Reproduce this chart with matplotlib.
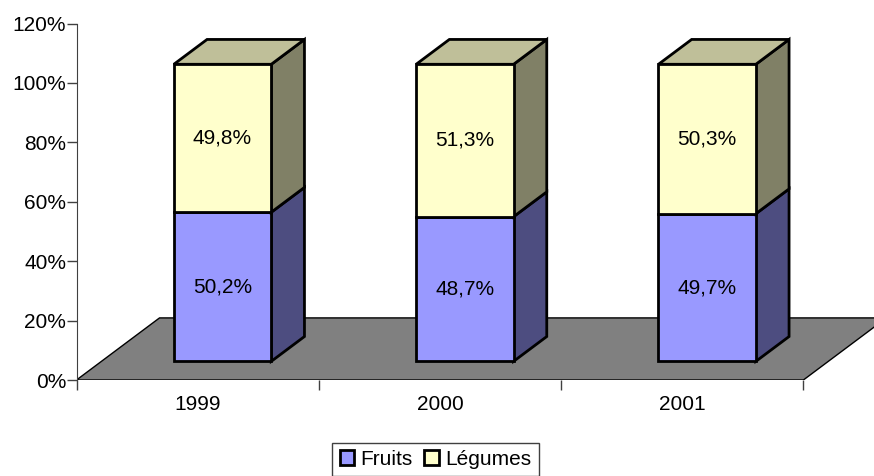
import matplotlib
matplotlib.use('Agg')
import matplotlib.pyplot as plt
from matplotlib.patches import Polygon, Patch
from matplotlib.ticker import FixedLocator, FixedFormatter

plt.rcParams['font.family'] = ['Liberation Sans', 'DejaVu Sans']

annees = ['1999', '2000', '2001']
fruits = [50.2, 48.7, 49.7]
legumes = [49.8, 51.3, 50.3]
etiquettes_fruits = ['50,2%', '48,7%', '49,7%']
etiquettes_legumes = ['49,8%', '51,3%', '50,3%']
y_ticks = [0, 20, 40, 60, 80, 100, 120]
y_labels = ['0%', '20%', '40%', '60%', '80%', '100%', '120%']

# profondeur du decor 3D, en unites de categorie et de pourcent
PROF_X = 0.3426
PROF_Y = 20.9
DEBUT = 0.3
FIN = 0.7
LARGEUR = 0.402
TAILLE = 15

W, H = 874, 476
fig = plt.figure(figsize=(W / 100, H / 100), dpi=100)
gauche, bas, haut = 76.5, 380, 23.5
ax = fig.add_axes([gauche / W, 1 - bas / H, (W - gauche) / W, (bas - haut) / H])
ax.set_xlim(0, (W - gauche) / 242.3)
ax.set_ylim(0, 120)


def proj(x, y, d):
    # position (x, y) a la profondeur d (0 devant, 1 au fond)
    return (x + d * PROF_X, y + d * PROF_Y)


def boite(x0, x1, y0, y1, couleur, cote, dessus=None):
    face = [proj(x0, y0, DEBUT), proj(x1, y0, DEBUT), proj(x1, y1, DEBUT), proj(x0, y1, DEBUT)]
    droite = [proj(x1, y0, DEBUT), proj(x1, y0, FIN), proj(x1, y1, FIN), proj(x1, y1, DEBUT)]
    style = dict(edgecolor='black', linewidth=2.0, joinstyle='miter', zorder=3)
    ax.add_patch(Polygon(droite, facecolor=cote, **style))
    if dessus is not None:
        haut_p = [proj(x0, y1, DEBUT), proj(x1, y1, DEBUT), proj(x1, y1, FIN), proj(x0, y1, FIN)]
        ax.add_patch(Polygon(haut_p, facecolor=dessus, **style))
    ax.add_patch(Polygon(face, facecolor=couleur, **style))


# plancher
n = len(annees)
sol = [proj(0, 0, 0), proj(n, 0, 0), proj(n, 0, 1), proj(0, 0, 1)]
ax.add_patch(Polygon(sol, facecolor='#808080', edgecolor='black', linewidth=1.0, zorder=1))

for i in range(n):
    x0 = i + 0.5 - LARGEUR / 2
    x1 = i + 0.5 + LARGEUR / 2
    boite(x0, x1, 0, fruits[i], '#9999FF', '#4D4D80')
    boite(x0, x1, fruits[i], fruits[i] + legumes[i], '#FFFFCC', '#808066', '#BFBF99')
    cx, cy = proj(i + 0.5, fruits[i] / 2, DEBUT)
    ax.text(cx, cy, etiquettes_fruits[i], ha='center', va='center', fontsize=TAILLE, zorder=4)
    cx, cy = proj(i + 0.5, fruits[i] + legumes[i] / 2, DEBUT)
    ax.text(cx, cy, etiquettes_legumes[i], ha='center', va='center', fontsize=TAILLE, zorder=4)

ax.set_yticks(y_ticks)
ax.set_yticklabels(y_labels, fontsize=TAILLE)
ax.set_xticks(range(n + 1))
ax.set_xticklabels([])
ax.xaxis.set_minor_locator(FixedLocator([i + 0.5 for i in range(n)]))
ax.xaxis.set_minor_formatter(FixedFormatter(annees))
ax.tick_params(axis='x', which='minor', length=0, labelsize=TAILLE, pad=11)
ax.tick_params(axis='x', which='major', length=7, width=1, color='#404040')
ax.tick_params(axis='y', length=7, width=1, color='#404040', pad=0.5)

ax.spines['top'].set_visible(False)
ax.spines['right'].set_visible(False)
ax.spines['bottom'].set_visible(False)
ax.spines['left'].set_color('#404040')
ax.patch.set_visible(False)

poignees = [Patch(facecolor='#9999FF', edgecolor='black', linewidth=2.0, label='Fruits'),
            Patch(facecolor='#FFFFCC', edgecolor='black', linewidth=2.0, label='Légumes')]
fig.legend(handles=poignees, loc='center', bbox_to_anchor=(435.5 / W, 1 - 459.5 / H), ncol=2,
           fontsize=TAILLE, fancybox=False, framealpha=1, edgecolor='#404040',
           handlelength=0.7, handleheight=0.7, handletextpad=0.3, columnspacing=0.55,
           borderpad=0.35, borderaxespad=0)

fig.savefig('out.png', dpi=100)
